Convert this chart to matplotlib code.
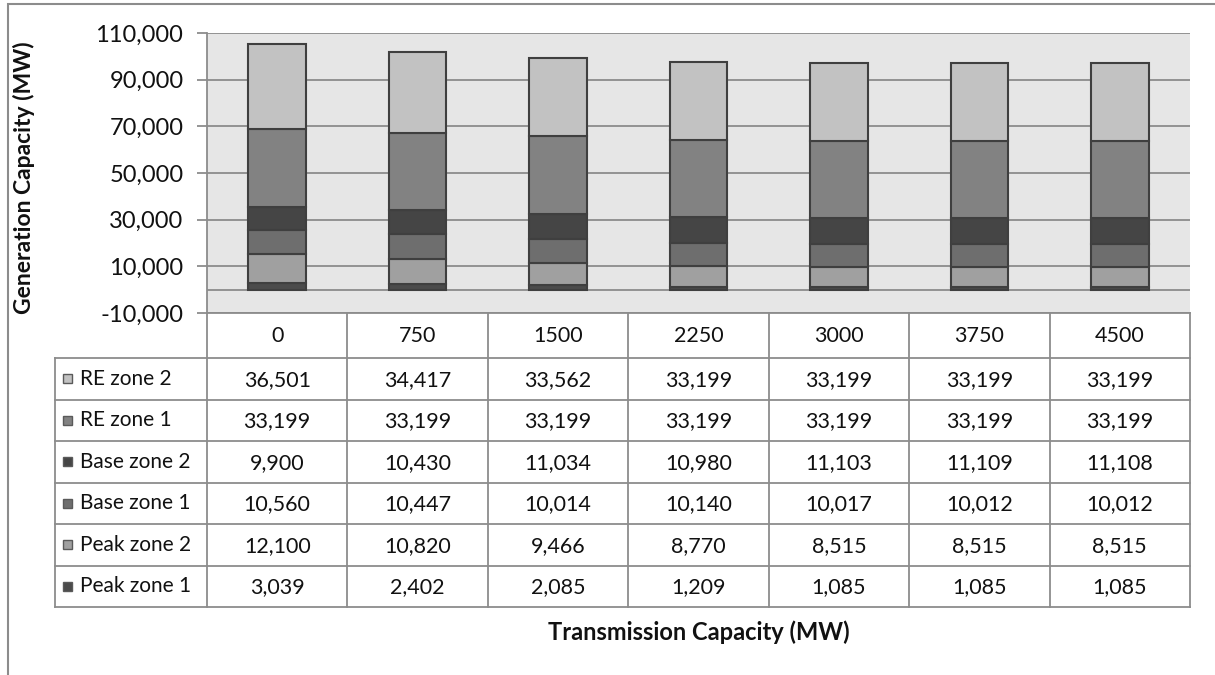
import matplotlib
matplotlib.use("Agg")
import matplotlib.pyplot as plt
from matplotlib.patches import Rectangle
from matplotlib.lines import Line2D
from matplotlib.ticker import FuncFormatter

plt.rcParams['font.family'] = ['Lato', 'DejaVu Sans']

categories = ["0", "750", "1500", "2250", "3000", "3750", "4500"]

# series in stacking order (bottom -> top)
peak_zone_1 = [3039, 2402, 2085, 1209, 1085, 1085, 1085]
peak_zone_2 = [12100, 10820, 9466, 8770, 8515, 8515, 8515]
base_zone_1 = [10560, 10447, 10014, 10140, 10017, 10012, 10012]
base_zone_2 = [9900, 10430, 11034, 10980, 11103, 11109, 11108]
re_zone_1 = [33199, 33199, 33199, 33199, 33199, 33199, 33199]
re_zone_2 = [36501, 34417, 33562, 33199, 33199, 33199, 33199]

series_names = ["Peak zone 1", "Peak zone 2", "Base zone 1", "Base zone 2",
                "RE zone 1", "RE zone 2"]
series_values = [peak_zone_1, peak_zone_2, base_zone_1, base_zone_2,
                 re_zone_1, re_zone_2]
series_colors = ["#4b4b4b", "#a0a0a0", "#6e6e6e", "#454545", "#828282", "#c2c2c2"]

y_ticks = [-10000, 10000, 30000, 50000, 70000, 90000, 110000]

W, H = 1215, 675
fig = plt.figure(figsize=(W / 100, H / 100), dpi=100)


def px_rect(x0, y0, x1, y1):
    """Figure-fraction rectangle from pixel box (top-left origin)."""
    return [x0 / W, 1 - y1 / H, (x1 - x0) / W, (y1 - y0) / H]


# outer frame
fig.patches.append(Rectangle((8 / W, -0.01), 1.0, 1 - 4 / H + 0.01,
                             transform=fig.transFigure, fill=False,
                             edgecolor="#8c8c8c", linewidth=1.5))

text_color = "#111111"

# ---- chart area ----
plot_l, plot_r, plot_t, plot_b = 207, 1190, 33, 313
ax = fig.add_axes(px_rect(plot_l, plot_t, plot_r, plot_b))
ax.set_facecolor("#e6e6e6")
ax.set_xlim(-0.5, len(categories) - 0.5)
ax.set_ylim(-10000, 110000)

grid_color = "#8c8c8c"
for yv in y_ticks + [0]:
    ax.axhline(yv, color=grid_color, linewidth=1.3, zorder=1)

x = list(range(len(categories)))
bottom = [0] * len(categories)
for vals, col in zip(series_values, series_colors):
    ax.bar(x, vals, width=0.41, bottom=bottom, color=col,
           edgecolor="#3f3f3f", linewidth=1.5, zorder=3)
    bottom = [b + v for b, v in zip(bottom, vals)]

for s in ["top", "right", "bottom"]:
    ax.spines[s].set_visible(False)
ax.spines["left"].set_color(grid_color)
ax.spines["left"].set_linewidth(1.3)
ax.set_xticks([])
ax.set_yticks(y_ticks)
ax.yaxis.set_major_formatter(FuncFormatter(lambda v, p: f"{int(v):,}"))
ax.tick_params(axis="y", direction="out", length=7, width=1.3, color=grid_color,
               pad=10, labelsize=17, labelcolor=text_color)
ax.set_ylabel("Generation Capacity (MW)", fontsize=16.5, fontweight="bold",
              color=text_color)
ax.yaxis.set_label_coords((35 - plot_l) / (plot_r - plot_l),
                          (plot_b - 178) / (plot_b - plot_t))

# ---- data table ----
tab_l, tab_t, tab_b = 55, 313, 607
col_w = (plot_r - plot_l) / len(categories)
left_w = (plot_l - tab_l) / col_w
header_h = 45
row_h = (tab_b - tab_t - header_h) / len(series_names)

tab = fig.add_axes(px_rect(tab_l, tab_t, plot_r, tab_b))
tab.set_xlim(-0.5 - left_w, len(categories) - 0.5)
tab.set_ylim(tab_b - tab_t, 0)
tab.axis("off")

line_kw = dict(color="#8c8c8c", linewidth=1.3, clip_on=False)
x_left = -0.5 - left_w
x_right = len(categories) - 0.5
# horizontal rules
tab.add_line(Line2D([-0.5, x_right], [0, 0], **line_kw))
for i in range(len(series_names) + 1):
    yy = header_h + i * row_h
    tab.add_line(Line2D([x_left, x_right], [yy, yy], **line_kw))
# vertical rules
tab.add_line(Line2D([x_left, x_left], [header_h, tab_b - tab_t], **line_kw))
for k in range(len(categories) + 1):
    xx = -0.5 + k
    tab.add_line(Line2D([xx, xx], [0, tab_b - tab_t], **line_kw))

for k, cat in enumerate(categories):
    tab.text(k, header_h / 2 + 1, cat, ha="center", va="center",
             fontsize=15.5, color=text_color)

rows = list(zip(series_names, series_values, series_colors))[::-1]
sq = 9  # legend key size, px
for i, (name, vals, col) in enumerate(rows):
    yc = header_h + (i + 0.5) * row_h
    for k, v in enumerate(vals):
        tab.text(k, yc + 1, f"{v:,}", ha="center", va="center",
                 fontsize=15.5, color=text_color)
    kx = x_left + 8 / col_w
    tab.add_patch(Rectangle((kx, yc - sq / 2), sq / col_w, sq,
                            facecolor=col, edgecolor="#5a5a5a", linewidth=1.0))
    tab.text(x_left + 25 / col_w, yc, name, ha="left", va="center",
             fontsize=15, color=text_color)

fig.text((plot_l + plot_r) / 2 / W, 1 - 632 / H, "Transmission Capacity (MW)",
         ha="center", va="center", fontsize=17, fontweight="bold", color=text_color)

fig.savefig("out.png", dpi=100, facecolor="white")
